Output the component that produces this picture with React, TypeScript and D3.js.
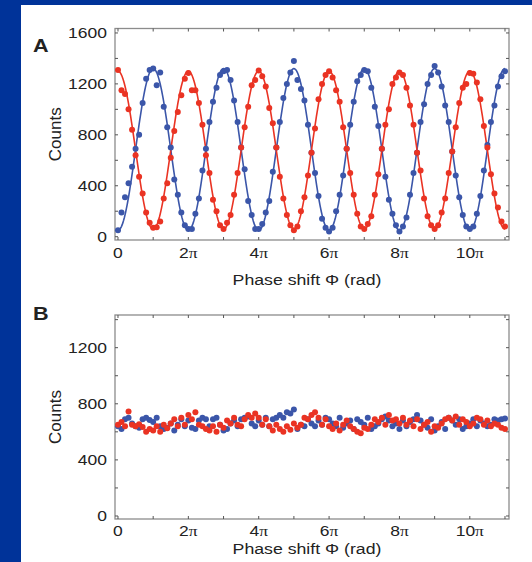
import React from "react";
import * as d3 from "d3";

const RED = "#ea3323";
const BLUE = "#3b56a9";
const FRAME_BLUE = "#003399";

// phase sampling step in units of π
const PHASE_STEP = 0.1;

const X_TICKS = [0, 2, 4, 6, 8, 10]; // multiples of π
const X_TICK_LABELS = ["0", "2", "4", "6", "8", "10"];
const A_Y_TICKS = [0, 400, 800, 1200, 1600];
const B_Y_TICKS = [0, 400, 800, 1200];

// Panel A data (counts)
const A_RED = [
  1310, 1150, 1120, 1000, 840, 640, 470, 340, 190, 110, 70, 75, 120, 300, 420, 620, 830, 980, 1110, 1240,
  1285, 1150, 1150, 1050, 880, 640, 500, 290, 200, 90, 60, 110, 170, 330, 500, 700, 860, 1020, 1190, 1230,
  1305, 1260, 1180, 1010, 890, 700, 470, 300, 170, 90, 50, 80, 200, 310, 480, 660, 850, 1080, 1200, 1270,
  1300, 1250, 1150, 1060, 860, 690, 500, 330, 180, 80, 60, 100, 160, 330, 490, 690, 880, 1000, 1200, 1250,
  1290, 1270, 1170, 1030, 880, 660, 520, 300, 160, 90, 60, 90, 190, 300, 500, 670, 860, 1050, 1170, 1200,
  1285, 1280, 1210, 1080, 870, 700, 490, 340, 230, 120, 80,
];
const A_BLUE = [
  50, 190, 310, 420, 550, 690, 800, 1050, 1240, 1310, 1320, 1190, 1290, 1020, 860, 700, 450, 330, 190, 90,
  60, 60, 180, 300, 520, 690, 900, 1060, 1170, 1270, 1300, 1310, 1230, 1070, 900, 700, 530, 280, 170, 60,
  60, 100, 190, 280, 510, 700, 900, 1090, 1200, 1290, 1380, 1230, 1160, 1070, 880, 660, 500, 320, 140, 70,
  40, 70, 200, 330, 480, 690, 880, 1060, 1220, 1270, 1310, 1300, 1170, 1020, 870, 690, 470, 290, 180, 90,
  40, 80, 150, 330, 500, 660, 900, 1040, 1200, 1270, 1340, 1290, 1180, 1030, 900, 670, 480, 310, 170, 80,
  60, 80, 180, 320, 520, 720, 900, 1030, 1180, 1260, 1300,
];
// cosine fit parameters: offset + amplitude * cos(Φ)
const A_RED_FIT = [680, 620];
const A_BLUE_FIT = [685, -635];

// Panel B data (counts)
const B_RED = [
  650, 670, 640, 745, 650, 640, 655, 635, 600, 620, 610, 640, 600, 650, 625, 660, 690, 640, 700, 650,
  720, 690, 740, 650, 640, 620, 610, 640, 600, 650, 630, 680, 660, 700, 650, 640, 690, 720, 700, 730,
  700, 650, 690, 640, 610, 650, 620, 600, 640, 615, 660, 630, 650, 700, 690, 720, 740, 700, 650, 690,
  640, 620, 660, 610, 650, 680, 640, 620, 600, 590, 630, 620, 650, 690, 670, 700, 650, 720, 680, 690,
  660, 700, 650, 680, 640, 690, 620, 650, 670, 600, 640, 630, 660, 690, 700, 680, 710, 650, 690, 670,
  640, 660, 700, 690, 650, 680, 640, 660, 650, 630, 620,
];
const B_BLUE = [
  640, 620, 690, 700, 660, 640, 630, 690, 700, 685, 670, 700, 640, 620, 630, 660, 610, 650, 690, 640,
  680, 630, 620, 680, 700, 690, 640, 690, 700, 650, 610, 620, 660, 680, 640, 690, 700, 710, 660, 640,
  680, 650, 700, 640, 690, 700, 720, 700, 740, 730, 760, 620, 650, 640, 690, 660, 640, 680, 650, 700,
  690, 660, 640, 700, 630, 660, 680, 620, 690, 670, 650, 700, 620, 640, 660, 690, 710, 680, 640, 660,
  620, 680, 640, 670, 690, 720, 680, 650, 630, 690, 610, 640, 670, 620, 700, 680, 650, 690, 620, 640,
  660, 690, 640, 680, 660, 640, 650, 690, 680, 690, 695,
];

const SANS = "'Liberation Sans', Arial, Helvetica, sans-serif";
const SERIF = "'Liberation Serif', 'Times New Roman', serif";

const PLOT_LEFT = 115;
const PLOT_RIGHT = 509;
const X_DOMAIN: [number, number] = [-0.085, 11.114];

type PanelProps = {
  top: number;
  bottom: number;
  yDomain: [number, number];
  yTicks: number[];
  red: number[];
  blue: number[];
  redFit?: number[];
  blueFit?: number[];
  letter: string;
  letterBase: number;
  tickBase: number;
  titleBase: number;
};

function Panel(p: PanelProps) {
  const x = d3.scaleLinear().domain(X_DOMAIN).range([PLOT_LEFT, PLOT_RIGHT]);
  const y = d3.scaleLinear().domain(p.yDomain).range([p.bottom, p.top]);
  const minorX = d3.range(0, 12, 1);
  const minorY = d3.range(0, p.yDomain[1], 200);
  const fitPhases = d3.range(0, 11.0001, 0.02);
  const line = (fit: number[]) =>
    d3
      .line<number>()
      .x((d) => x(d))
      .y((d) => y(fit[0] + fit[1] * Math.cos(d * Math.PI)))(fitPhases) || "";
  const cy = (p.top + p.bottom) / 2;
  const tickLen = 3;
  return (
    <g>
      <rect
        x={PLOT_LEFT}
        y={p.top}
        width={PLOT_RIGHT - PLOT_LEFT}
        height={p.bottom - p.top}
        fill="#fff"
        stroke="#8c8c8c"
        strokeWidth={1.3}
      />
      {minorX.map((v) => (
        <g key={"mx" + v} stroke="#555" strokeWidth={1}>
          <line x1={x(v)} x2={x(v)} y1={p.bottom} y2={p.bottom - tickLen} />
          <line x1={x(v)} x2={x(v)} y1={p.top} y2={p.top + tickLen} />
        </g>
      ))}
      {minorY.map((v) => (
        <g key={"my" + v} stroke="#555" strokeWidth={1}>
          <line x1={PLOT_LEFT} x2={PLOT_LEFT + tickLen} y1={y(v)} y2={y(v)} />
          <line x1={PLOT_RIGHT} x2={PLOT_RIGHT - tickLen} y1={y(v)} y2={y(v)} />
        </g>
      ))}
      {p.blueFit && <path d={line(p.blueFit)} fill="none" stroke={BLUE} strokeWidth={1.6} />}
      {p.redFit && <path d={line(p.redFit)} fill="none" stroke={RED} strokeWidth={1.6} />}
      {p.blue.map((v, i) => (
        <circle key={"b" + i} cx={x(i * PHASE_STEP)} cy={y(v)} r={3} fill={BLUE} />
      ))}
      {p.red.map((v, i) => (
        <circle key={"r" + i} cx={x(i * PHASE_STEP)} cy={y(v)} r={3} fill={RED} />
      ))}
      {p.yTicks.map((v) => (
        <g key={"yl" + v} transform={`translate(107,${y(v) + 5}) scale(1.25,1)`}>
          <text textAnchor="end" fontFamily={SANS} fontSize={14} fill="#222">
            {v}
          </text>
        </g>
      ))}
      {X_TICKS.map((v, i) => (
        <g key={"xl" + v} transform={`translate(${x(v)},${p.tickBase}) scale(1.25,1)`}>
          <text textAnchor="middle" fontFamily={SANS} fontSize={14} fill="#222">
            {X_TICK_LABELS[i]}
            {v !== 0 && (
              <tspan fontFamily={SERIF} fontSize={14}>
                π
              </tspan>
            )}
          </text>
        </g>
      ))}
      <g transform={`translate(307,${p.titleBase}) scale(1.18,1)`}>
        <text textAnchor="middle" fontFamily={SANS} fontSize={15} fill="#222">
          Phase shift Φ (rad)
        </text>
      </g>
      <g transform={`translate(61,${cy}) rotate(-90)`}>
        <text textAnchor="middle" fontFamily={SANS} fontSize={17} fill="#222">
          Counts
        </text>
      </g>
      <g transform={`translate(33,${p.letterBase}) scale(1.2,1)`}>
        <text fontFamily={SANS} fontWeight="bold" fontSize={18} fill="#222">
          {p.letter}
        </text>
      </g>
    </g>
  );
}

export default function App() {
  return (
    <svg
      width={532}
      height={562}
      viewBox="0 0 532 562"
      style={{ position: "absolute", left: 0, top: 0, display: "block" }}
    >
      <rect x={0} y={0} width={532} height={562} fill={FRAME_BLUE} />
      <rect x={21} y={5} width={511} height={557} fill="#fff" />
      <Panel
        top={28.5}
        bottom={240}
        yDomain={[-26, 1635]}
        yTicks={A_Y_TICKS}
        red={A_RED}
        blue={A_BLUE}
        redFit={A_RED_FIT}
        blueFit={A_BLUE_FIT}
        letter="A"
        letterBase={51.7}
        tickBase={258.3}
        titleBase={284.5}
      />
      <Panel
        top={315}
        bottom={519}
        yDomain={[-21.4, 1433]}
        yTicks={B_Y_TICKS}
        red={B_RED}
        blue={B_BLUE}
        letter="B"
        letterBase={320}
        tickBase={536}
        titleBase={553.5}
      />
    </svg>
  );
}
